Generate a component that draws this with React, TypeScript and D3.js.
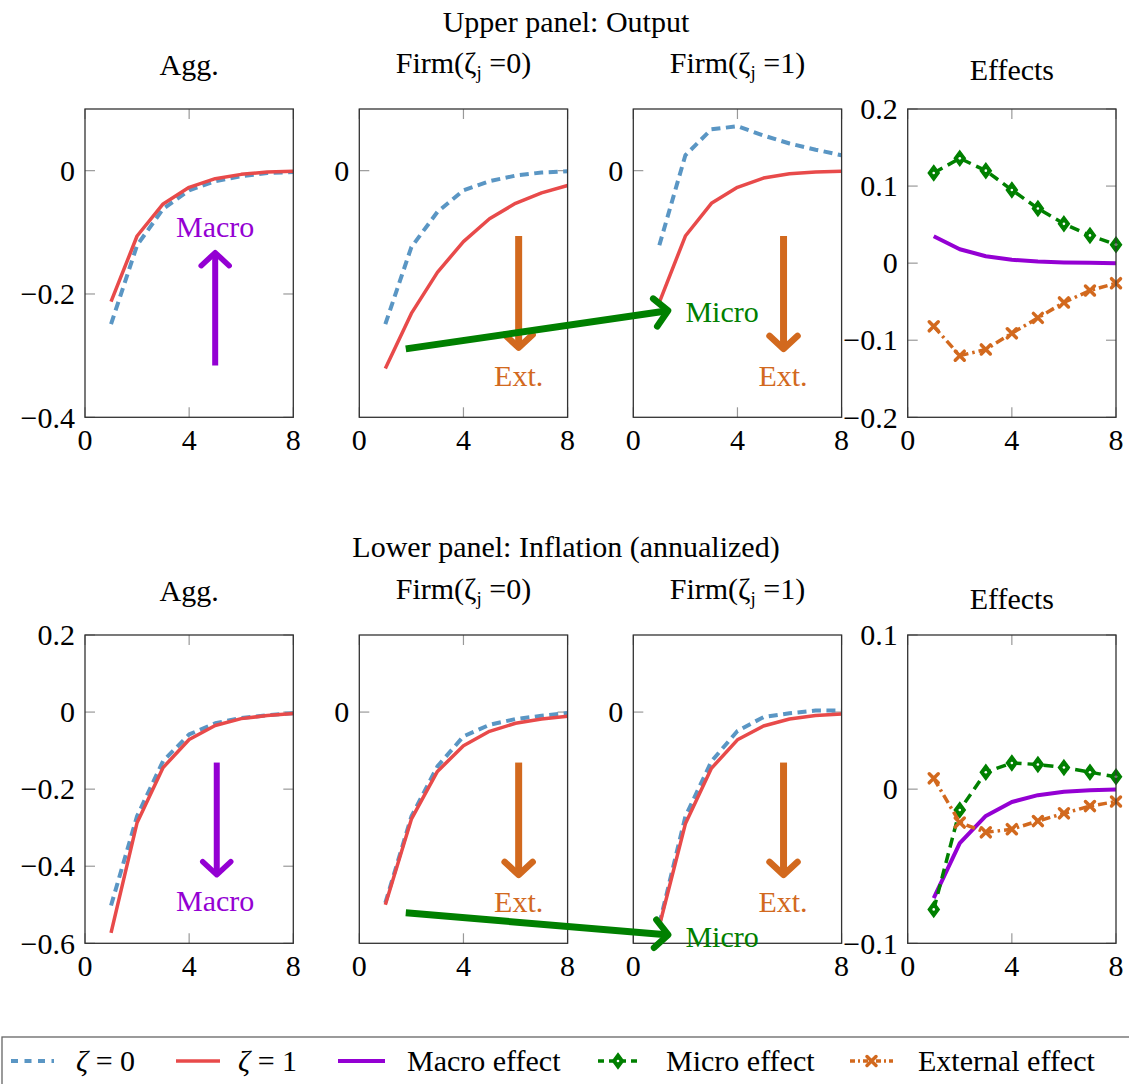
import * as d3 from "d3";

// horizon (quarters)
const steps = [1, 2, 3, 4, 5, 6, 7, 8];

// Upper panel: output
const outAggZ0 = [-0.249, -0.121, -0.062, -0.032, -0.017, -0.009, -0.004, -0.002];
const outAggZ1 = [-0.2125, -0.106, -0.054, -0.027, -0.013, -0.006, -0.002, -0.001];
const outFirm0Z0 = [-0.249, -0.124, -0.067, -0.032, -0.017, -0.008, -0.003, -0.001];
const outFirm0Z1 = [-0.321, -0.2315, -0.165, -0.115, -0.078, -0.053, -0.036, -0.024];
const outFirm1Z0 = [-0.121, 0.025, 0.067, 0.072, 0.057, 0.044, 0.034, 0.025];
const outFirm1Z1 = [-0.2135, -0.106, -0.053, -0.027, -0.012, -0.005, -0.002, -0.001];
const outMacro = [0.035, 0.018, 0.009, 0.0044, 0.002, 0.001, 0.0005, 0];
const outMicro = [0.117, 0.136, 0.12, 0.095, 0.071, 0.051, 0.036, 0.024];
const outExternal = [-0.082, -0.12, -0.112, -0.091, -0.071, -0.051, -0.0355, -0.026];

// Lower panel: inflation (annualized)
const infAggZ0 = [-0.502, -0.27, -0.127, -0.058, -0.029, -0.0155, -0.008, -0.003];
const infAggZ1 = [-0.573, -0.287, -0.144, -0.071, -0.035, -0.017, -0.009, -0.004];
const infFirm0Z0 = [-0.495, -0.271, -0.141, -0.063, -0.033, -0.018, -0.0096, -0.0026];
const infFirm0Z1 = [-0.5, -0.278, -0.154, -0.0875, -0.05, -0.029, -0.018, -0.011];
const infFirm1Z0 = [-0.55, -0.271, -0.128, -0.049, -0.013, -0.003, 0.004, 0.004];
const infFirm1Z1 = [-0.555, -0.29, -0.146, -0.072, -0.036, -0.018, -0.009, -0.005];
const infMacro = [-0.0707, -0.035, -0.0174, -0.0083, -0.0039, -0.0017, -0.0007, -0.0002];
const infMicro = [-0.078, -0.0135, 0.011, 0.017, 0.016, 0.014, 0.011, 0.008];
const infExternal = [0.007, -0.0217, -0.028, -0.026, -0.0207, -0.0157, -0.011, -0.008];

// axis ticks
const xTicksFull = [0, 4, 8];
const xTicksEnds = [0, 8];
const outAggTicks = [-0.4, -0.2, 0];
const outEffTicks = [-0.2, -0.1, 0, 0.1, 0.2];
const infAggTicks = [-0.6, -0.4, -0.2, 0, 0.2];
const infEffTicks = [-0.1, 0, 0.1];
const firmTicks = [0];

const rowTitles = ["Upper panel: Output", "Lower panel: Inflation (annualized)"];
const legendLabels = ["ζ = 0", "ζ = 1", "Macro effect", "Micro effect", "External effect"];

const W = 1129;
const H = 1084;
const FONT = "'Liberation Serif', 'Times New Roman', serif";
const BLUE = "#5a96c4";
const RED = "#e84a4a";
const PURPLE = "#9400d3";
const GREEN = "#008000";
const ORANGE = "#d2691e";

const panelW = 208.3;
const panelH = 308.3;
const lefts = [85, 359.3, 633.3, 907.7];
const rowTops = [109, 635];

const styles = {
  z0: { color: BLUE, width: 4, dash: "9 5.5" },
  z1: { color: RED, width: 3.5, dash: null },
  macro: { color: PURPLE, width: 4, dash: null },
  micro: { color: GREEN, width: 3.5, dash: "10 6" },
  external: { color: ORANGE, width: 3.5, dash: "9 4 2.5 4" },
};

const rows = [
  {
    title: rowTitles[0],
    titleY: 32,
    panels: [
      { title: "Agg.", titleY: 75, domain: [-0.4, 0.1], yTicks: outAggTicks, xTicks: xTicksFull,
        series: [["z0", outAggZ0], ["z1", outAggZ1]] },
      { title: "firm0", titleY: 73, domain: [-0.4, 0.1], yTicks: firmTicks, xTicks: xTicksFull,
        series: [["z0", outFirm0Z0], ["z1", outFirm0Z1]] },
      { title: "firm1", titleY: 73, domain: [-0.4, 0.1], yTicks: firmTicks, xTicks: xTicksFull,
        series: [["z0", outFirm1Z0], ["z1", outFirm1Z1]] },
      { title: "Effects", titleY: 80, domain: [-0.2, 0.2], yTicks: outEffTicks, xTicks: xTicksFull,
        series: [["macro", outMacro], ["micro", outMicro], ["external", outExternal]] },
    ],
    arrows: [
      { color: PURGE_FIX(), w: 6, from: [0, 5, -0.316], to: [0, 5, -0.133] },
      { color: ORANGE, w: 7, from: [1, 6.12, -0.106], to: [1, 6.12, -0.287] },
      { color: ORANGE, w: 7, from: [2, 5.77, -0.106], to: [2, 5.77, -0.289] },
      { color: GREEN, w: 7, from: [1, 1.785, -0.289], to: [2, 1.335, -0.227] },
    ],
    notes: [
      { text: "Macro", color: PURPLE, at: [0, 5, -0.108], anchor: "middle" },
      { text: "Ext.", color: ORANGE, at: [1, 6.12, -0.349], anchor: "middle" },
      { text: "Ext.", color: ORANGE, at: [2, 5.75, -0.349], anchor: "middle" },
      { text: "Micro", color: GREEN, at: [2, 2, -0.246], anchor: "start" },
    ],
  },
  {
    title: rowTitles[1],
    titleY: 557,
    panels: [
      { title: "Agg.", titleY: 601, domain: [-0.6, 0.2], yTicks: infAggTicks, xTicks: xTicksFull,
        series: [["z0", infAggZ0], ["z1", infAggZ1]] },
      { title: "firm0", titleY: 599, domain: [-0.6, 0.2], yTicks: firmTicks, xTicks: xTicksFull,
        series: [["z0", infFirm0Z0], ["z1", infFirm0Z1]] },
      { title: "firm1", titleY: 599, domain: [-0.6, 0.2], yTicks: firmTicks, xTicks: xTicksEnds,
        series: [["z0", infFirm1Z0], ["z1", infFirm1Z1]] },
      { title: "Effects", titleY: 609, domain: [-0.1, 0.1], yTicks: infEffTicks, xTicks: xTicksFull,
        series: [["macro", infMacro], ["micro", infMicro], ["external", infExternal]] },
    ],
    arrows: [
      { color: PURPLE, w: 6, from: [0, 5.06, -0.131], to: [0, 5.06, -0.422] },
      { color: ORANGE, w: 7, from: [1, 6.12, -0.131], to: [1, 6.12, -0.4226] },
      { color: ORANGE, w: 7, from: [2, 5.77, -0.131], to: [2, 5.77, -0.4226] },
      { color: GREEN, w: 7, from: [1, 1.785, -0.521], to: [2, 1.34, -0.578] },
    ],
    notes: [
      { text: "Macro", color: PURPLE, at: [0, 5, -0.517], anchor: "middle" },
      { text: "Ext.", color: ORANGE, at: [1, 6.12, -0.518], anchor: "middle" },
      { text: "Ext.", color: ORANGE, at: [2, 5.75, -0.518], anchor: "middle" },
      { text: "Micro", color: GREEN, at: [2, 2, -0.609], anchor: "start" },
    ],
  },
];

function PURGE_FIX() {
  return PURPLE;
}

const fmt = (v: number) => (v < 0 ? "\u2212" + String(-v) : String(v));

function Marker({ kind, x, y }: { kind: string; x: number; y: number }) {
  if (kind === "micro") {
    return (
      <g transform={`translate(${x},${y})`}>
        <path d="M0,-7.5L5.5,0L0,7.5L-5.5,0Z" fill={GREEN} stroke={GREEN} strokeWidth={1.5} />
        <circle r={1.3} fill="white" />
      </g>
    );
  }
  if (kind === "external") {
    return (
      <path
        transform={`translate(${x},${y})`}
        d="M-4.5,-4.5L4.5,4.5M-4.5,4.5L4.5,-4.5"
        stroke={ORANGE}
        strokeWidth={3.5}
        strokeLinecap="round"
      />
    );
  }
  return null;
}

function Arrow({ x1, y1, x2, y2, color, w }: any) {
  const len = Math.hypot(x2 - x1, y2 - y1);
  const ux = (x2 - x1) / len;
  const uy = (y2 - y1) / len;
  const nx = -uy;
  const ny = ux;
  const back = 13;
  const side = 14;
  const a1 = [x2 - back * ux + side * nx, y2 - back * uy + side * ny];
  const a2 = [x2 - back * ux - side * nx, y2 - back * uy - side * ny];
  return (
    <g>
      <line x1={x1} y1={y1} x2={x2 - 2 * ux} y2={y2 - 2 * uy} stroke={color} strokeWidth={w} />
      <path
        d={`M${a1[0]},${a1[1]}L${x2},${y2}L${a2[0]},${a2[1]}`}
        fill="none"
        stroke={color}
        strokeWidth={w - 0.5}
        strokeLinecap="round"
        strokeLinejoin="round"
      />
    </g>
  );
}

function FirmTitle({ x, y, z }: { x: number; y: number; z: string }) {
  return (
    <text x={x} y={y} textAnchor="middle" fontSize={30} fontFamily={FONT} style={{ whiteSpace: "pre" }}>
      Firm(ζ
      <tspan fontSize={19} dy={6}>j</tspan>
      <tspan dy={-6}>{" =" + z + ")"}</tspan>
    </text>
  );
}

export default function App() {
  const xScale = (p: number) => d3.scaleLinear().domain([0, 8]).range([lefts[p], lefts[p] + panelW]);

  return (
    <svg
      width={W}
      height={H}
      style={{ position: "absolute", left: 0, top: 0, background: "white" }}
      fontFamily={FONT}
    >
      {rows.map((row, ri) => {
        const top = rowTops[ri];
        const bottom = top + panelH;
        const yScales = row.panels.map((p) => d3.scaleLinear().domain(p.domain).range([bottom, top]));
        const pos = (a: number[]) => [xScale(a[0])(a[1]), yScales[a[0]](a[2])];
        return (
          <g key={ri}>
            <text x={566} y={row.titleY} textAnchor="middle" fontSize={30}>
              {row.title}
            </text>
            {row.panels.map((p, pi) => {
              const x = xScale(pi);
              const y = yScales[pi];
              const left = lefts[pi];
              const right = left + panelW;
              const cx = left + panelW / 2;
              return (
                <g key={pi}>
                  {p.title === "firm0" || p.title === "firm1" ? (
                    <FirmTitle x={cx} y={p.titleY} z={p.title === "firm0" ? "0" : "1"} />
                  ) : (
                    <text x={cx} y={p.titleY} textAnchor="middle" fontSize={30}>
                      {p.title}
                    </text>
                  )}
                  {p.yTicks.map((t) => (
                    <g key={"y" + t}>
                      <line x1={left} x2={left + 10} y1={y(t)} y2={y(t)} stroke="#999" strokeWidth={1.2} />
                      <line x1={right - 10} x2={right} y1={y(t)} y2={y(t)} stroke="#999" strokeWidth={1.2} />
                      <text x={left - 10} y={y(t)} dy="0.34em" textAnchor="end" fontSize={30}>
                        {fmt(t)}
                      </text>
                    </g>
                  ))}
                  {p.xTicks.map((t) => (
                    <g key={"x" + t}>
                      <line x1={x(t)} x2={x(t)} y1={bottom - 10} y2={bottom} stroke="#999" strokeWidth={1.2} />
                      <line x1={x(t)} x2={x(t)} y1={top} y2={top + 10} stroke="#999" strokeWidth={1.2} />
                      <text x={x(t)} y={bottom + 33} textAnchor="middle" fontSize={30}>
                        {fmt(t)}
                      </text>
                    </g>
                  ))}
                  {p.series.map(([kind, vals]: any) => {
                    const st = (styles as any)[kind];
                    const line = d3
                      .line<number>()
                      .x((_, i) => x(steps[i]))
                      .y((v) => y(v));
                    return (
                      <g key={kind}>
                        <path
                          d={line(vals) || ""}
                          fill="none"
                          stroke={st.color}
                          strokeWidth={st.width}
                          strokeDasharray={st.dash || undefined}
                          strokeLinejoin="round"
                        />
                        {vals.map((v: number, i: number) => (
                          <Marker key={i} kind={kind} x={x(steps[i])} y={y(v)} />
                        ))}
                      </g>
                    );
                  })}
                  <rect x={left} y={top} width={panelW} height={panelH} fill="none" stroke="#333" strokeWidth={1.3} />
                </g>
              );
            })}
            {row.arrows.map((a, ai) => {
              const [x1, y1] = pos(a.from);
              const [x2, y2] = pos(a.to);
              return <Arrow key={ai} x1={x1} y1={y1} x2={x2} y2={y2} color={a.color} w={a.w} />;
            })}
            {row.notes.map((n, ni) => {
              const [nx, ny] = pos(n.at);
              return (
                <text key={ni} x={nx} y={ny} textAnchor={n.anchor} fill={n.color} fontSize={30}>
                  {n.text}
                </text>
              );
            })}
          </g>
        );
      })}

      <g>
        <rect x={2} y={1037} width={1140} height={60} fill="white" stroke="#666" strokeWidth={1.3} />
        {[
          { kind: "z0", x0: 11, x1: 54, tx: 76 },
          { kind: "z1", x0: 176, x1: 220, tx: 238 },
          { kind: "macro", x0: 338, x1: 385, tx: 407 },
          { kind: "micro", x0: 598, x1: 638, tx: 666 },
          { kind: "external", x0: 850, x1: 893, tx: 918 },
        ].map((it, i) => {
          const st = (styles as any)[it.kind];
          const ly = 1061;
          return (
            <g key={i}>
              <line
                x1={it.x0}
                x2={it.x1}
                y1={ly}
                y2={ly}
                stroke={st.color}
                strokeWidth={st.width}
                strokeDasharray={it.kind === "z0" ? "7 6.5" : it.kind === "micro" ? "6 5" : it.kind === "external" ? "5 3 2 3" : undefined}
              />
              <Marker kind={it.kind} x={(it.x0 + it.x1) / 2} y={ly} />
              <text x={it.tx} y={1071} fontSize={30}>
                {i < 2 ? (
                  <>
                    <tspan fontStyle="italic">ζ</tspan>
                    {legendLabels[i].slice(1)}
                  </>
                ) : (
                  legendLabels[i]
                )}
              </text>
            </g>
          );
        })}
      </g>
    </svg>
  );
}
